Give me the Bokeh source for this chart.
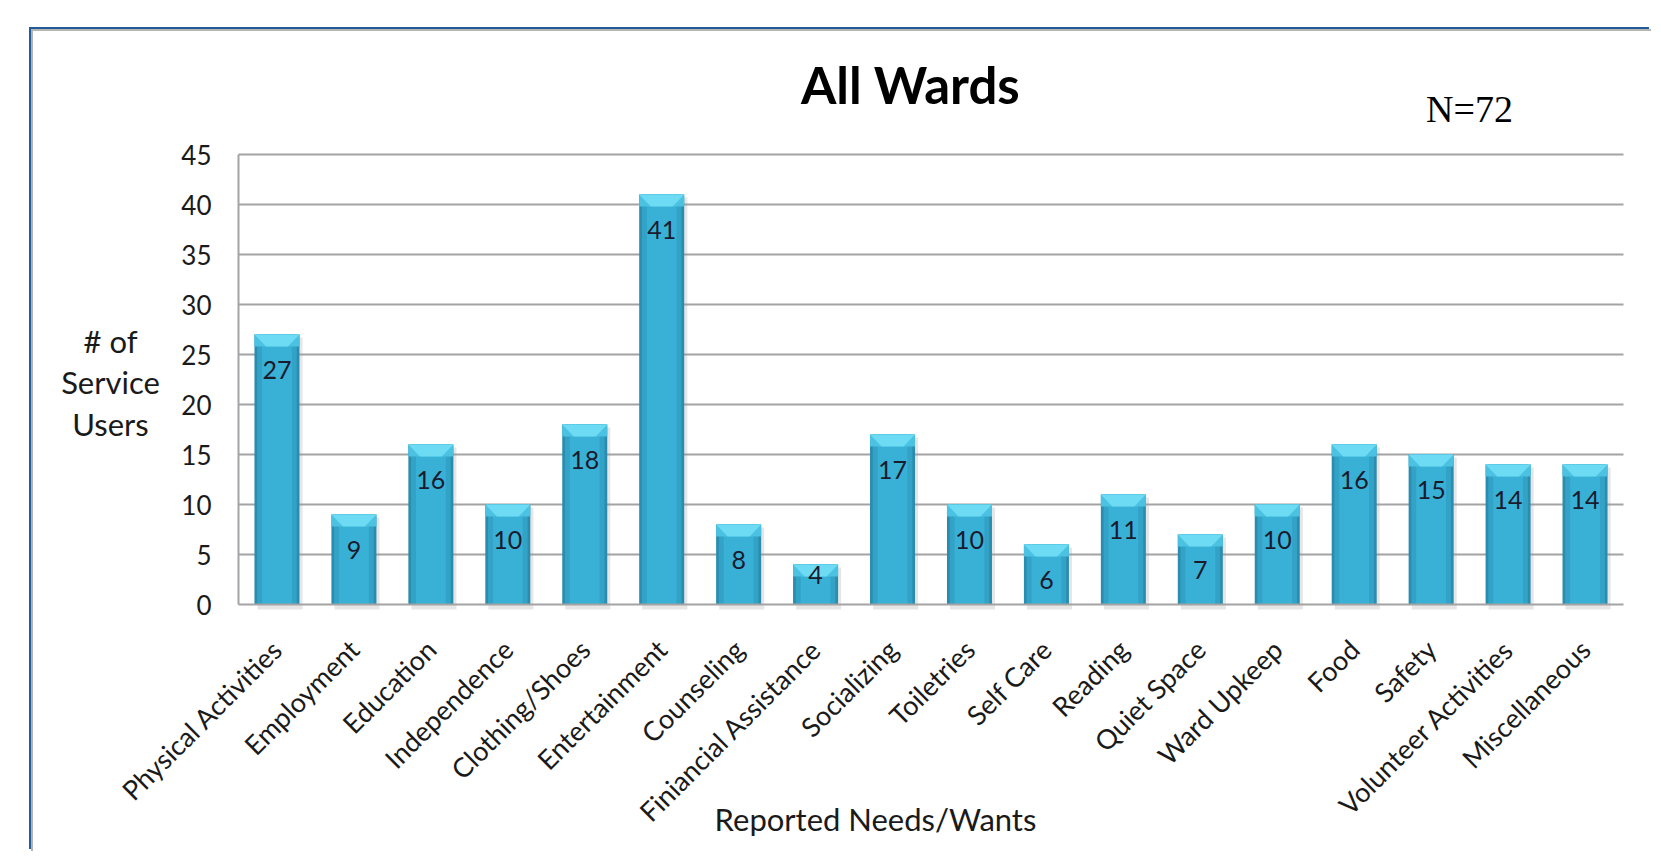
import math
from bokeh.plotting import figure
from bokeh.models import Range1d, FixedTicker, Label, ColumnDataSource, LinearAxis
from bokeh.core.properties import value
from bokeh.embed import file_html
from bokeh.resources import INLINE

# ---- data ----
categories = ["Physical Activities", "Employment", "Education", "Independence",
              "Clothing/Shoes", "Entertainment", "Counseling", "Finiancial Assistance",
              "Socializing", "Toiletries", "Self Care", "Reading", "Quiet Space",
              "Ward Upkeep", "Food", "Safety", "Volunteer Activities", "Miscellaneous"]
counts = [27, 9, 16, 10, 18, 41, 8, 4, 17, 10, 6, 11, 7, 10, 16, 15, 14, 14]
y_ticks = [0, 5, 10, 15, 20, 25, 30, 35, 40, 45]
title_text = "All Wards"
n_text = "N=72"
y_label_lines = ["# of", "Service", "Users"]
x_label_text = "Reported Needs/Wants"

FONT = "Lato"
BAR_W = 0.585
BEVEL_H = 1.2
BEVEL_IN = 0.15

# ---- layout geometry (page pixels) ----
W, H = 1620, 822
CANVAS_X0, CANVAS_Y0 = 33, 31          # canvas top-left on the page
PLOT_L, PLOT_R = 238, 1623             # category band on the page
ZERO_Y, PX_PER_UNIT = 604, 10.0
n_cat = len(categories)
px_per_cat = (PLOT_R - PLOT_L) / n_cat
BASE_SHIFT = 0.38                      # alphabetic baseline correction (em)


def px_x(px):
    return (px - PLOT_L) / px_per_cat


def px_y(py):
    return (ZERO_Y - py) / PX_PER_UNIT


def base_y(py, fs):
    return px_y(py - BASE_SHIFT * fs)


x_range = Range1d(px_x(CANVAS_X0), px_x(CANVAS_X0 + W))
y_range = Range1d(px_y(CANVAS_Y0 + H), px_y(CANVAS_Y0))

p = figure(x_range=x_range, y_range=y_range, width=W, height=H,
           output_backend="svg", toolbar_location=None,
           x_axis_type=None, y_axis_type=None,
           min_border_left=0, min_border_right=0, min_border_top=0, min_border_bottom=0)
p.styles = {"margin-left": "31px", "margin-top": "29px",
            "border-left": "2px solid #b4b4b4", "border-top": "2px solid #b4b4b4",
            "box-shadow": "-2px -2px 0 0 #1f5c99"}
p.outline_line_color = None
p.background_fill_color = "white"
p.border_fill_color = "white"
p.xgrid.visible = False
p.ygrid.visible = False

cat_x = [i + 0.5 for i in range(n_cat)]

# gridlines
grid_y = [t for t in y_ticks if t > 0]
p.segment(x0=[0] * len(grid_y), x1=[n_cat] * len(grid_y), y0=grid_y, y1=grid_y,
          line_color="#a3a3a3", line_width=2)

# soft bar shadows
p.vbar(x=[c + 0.04 for c in cat_x], top=[v - 0.3 for v in counts], bottom=-0.5,
       width=BAR_W, fill_color="#9a9a9a", fill_alpha=0.25, line_color=None)

# axes fixed at the data origin
xaxis = LinearAxis(fixed_location=0, bounds=(0, n_cat),
                   ticker=FixedTicker(ticks=cat_x),
                   major_label_overrides={x: c for x, c in zip(cat_x, categories)})
yaxis = LinearAxis(fixed_location=0, bounds=(0, max(y_ticks)),
                   ticker=FixedTicker(ticks=y_ticks))
p.add_layout(xaxis, "below")
p.add_layout(yaxis, "left")
for ax in (xaxis, yaxis):
    ax.axis_line_color = "#a3a3a3"
    ax.axis_line_width = 2
    ax.major_tick_line_color = None
    ax.minor_tick_line_color = None
    ax.major_tick_out = 0
    ax.major_tick_in = 0
    ax.major_label_text_font = FONT
    ax.major_label_text_color = "#1a1a1a"
yaxis.major_label_text_font_size = "26px"
yaxis.major_label_standoff = 27
xaxis.major_label_text_font_size = "27px"
xaxis.major_label_orientation = math.pi / 4
xaxis.major_label_standoff = 40

# bars (layered shading)
src = ColumnDataSource(dict(x=cat_x, top=counts,
                            bev_bottom=[v - BEVEL_H for v in counts]))
p.vbar(x="x", top="top", bottom=0, width=BAR_W, source=src,
       fill_color="#2a8cae", line_color=None)
p.vbar(x="x", top="top", bottom=0, width=BAR_W * 0.88, source=src,
       fill_color="#32a3c7", line_color=None)
p.vbar(x="x", top="top", bottom=0, width=BAR_W * 0.66, source=src,
       fill_color="#39b1d6", line_color=None)
p.vbar(x="x", top="top", bottom="bev_bottom", width=BAR_W, source=src,
       fill_color="#4cc2e2", line_color=None)

# top bevel face
xs, ys = [], []
for c, v in zip(cat_x, counts):
    h = BAR_W / 2
    xs.append([c - h, c + h, c + h - BEVEL_IN, c - h + BEVEL_IN])
    ys.append([v, v, v - BEVEL_H, v - BEVEL_H])
p.patches(xs, ys, fill_color="#6cdbf3", line_color=None)

# value labels
label_y = [v - 3.5 if v >= 6 else v - 1.0 for v in counts]
p.text(x=cat_x, y=label_y, text=[str(v) for v in counts],
       text_font=value(FONT), text_font_size="25px", text_color="#1b1b2e",
       text_align="center", text_baseline="middle")

# texts around the chart
p.add_layout(Label(x=px_x(910), y=base_y(103, 51), text=title_text, text_font=FONT,
                   text_font_size="51px", text_font_style="bold", text_color="black",
                   text_align="center", text_baseline="alphabetic"))
p.add_layout(Label(x=px_x(1469), y=base_y(123, 38), text=n_text, text_font="Liberation Serif",
                   text_font_size="38px", text_color="black",
                   text_align="center", text_baseline="alphabetic"))
for line, base in zip(y_label_lines, [352, 393, 435]):
    p.add_layout(Label(x=px_x(110), y=base_y(base, 31), text=line, text_font=FONT,
                       text_font_size="31px", text_color="#1a1a1a",
                       text_align="center", text_baseline="alphabetic"))
p.add_layout(Label(x=px_x(875), y=base_y(830, 31), text=x_label_text, text_font=FONT,
                   text_font_size="31px", text_color="#1a1a1a",
                   text_align="center", text_baseline="alphabetic"))

open("out.html", "w").write(file_html(p, INLINE))
